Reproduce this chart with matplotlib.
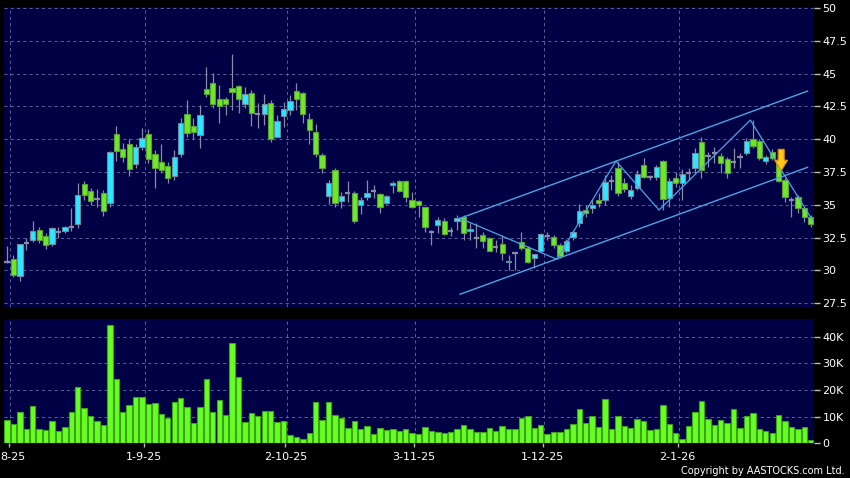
import matplotlib
matplotlib.use("Agg")
import matplotlib.pyplot as plt
import numpy as np
from matplotlib.patches import FancyArrow

# ---------------- data ----------------
opens = [30.65, 30.84, 29.55, 32.11, 32.32, 33.05, 32.65, 31.99, 32.90, 32.98,
         33.33, 33.51, 36.56, 36.03, 35.42, 35.92, 35.11, 40.37, 39.28, 39.61,
         38.08, 39.38, 40.37, 38.85, 38.29, 37.98, 37.22, 38.87, 41.90, 40.98,
         40.29, 43.80, 44.26, 43.09, 43.04, 43.88, 44.06, 42.66, 43.50, 41.90,
         41.90, 42.73, 40.19, 41.79, 42.20, 43.67, 43.50, 41.54, 40.52, 38.77,
         35.70, 37.65, 35.26, 35.92, 35.87, 34.96, 35.57, 36.08, 35.80, 35.11,
         36.51, 36.79, 36.79, 35.34, 35.26, 34.81, 32.95, 33.46, 33.77, 33.03,
         33.77, 34.05, 32.98, 32.50, 32.70, 32.44, 31.81, 31.99, 30.62, 31.30,
         32.19, 31.68, 30.97, 31.51, 32.63, 32.57, 31.91, 31.51, 32.51, 33.64,
         34.58, 34.74, 35.37, 35.37, 36.82, 37.78, 36.64, 35.68, 36.26, 38.04,
         37.10, 37.15, 38.34, 35.50, 37.02, 36.64, 37.40, 37.78, 39.81, 38.72,
         38.93, 38.72, 38.49, 38.24, 38.62, 38.98, 40.02, 39.87, 38.34, 39.05,
         38.34, 36.89, 35.37, 35.57, 34.73, 34.10]
highs = [31.86, 31.17, 32.04, 32.44, 33.76, 33.28, 32.83, 33.33, 33.33, 33.38,
         34.73, 36.64, 36.81, 36.25, 36.18, 36.13, 39.13, 41.00, 39.73, 39.99,
         39.63, 40.83, 40.75, 39.18, 39.63, 38.29, 39.18, 41.59, 42.99, 41.59,
         42.61, 45.53, 45.07, 44.13, 43.20, 46.49, 44.13, 43.95, 43.75, 42.73,
         43.42, 42.99, 41.84, 42.86, 43.37, 44.31, 43.62, 41.97, 41.16, 38.92,
         36.89, 37.78, 36.00, 36.81, 36.08, 35.62, 36.89, 36.51, 35.92, 35.75,
         36.81, 36.89, 36.89, 36.00, 35.37, 34.86, 33.10, 34.05, 33.97, 33.33,
         34.20, 34.22, 33.59, 33.59, 32.90, 32.57, 32.31, 32.70, 31.17, 31.30,
         32.90, 31.86, 31.05, 32.88, 32.95, 32.70, 32.10, 32.37, 33.06, 35.06,
         34.99, 35.37, 35.88, 37.28, 37.28, 38.29, 37.02, 36.51, 37.66, 38.55,
         37.30, 38.04, 38.42, 37.02, 37.48, 37.70, 37.78, 39.31, 40.20, 39.05,
         39.43, 38.92, 38.67, 39.31, 38.92, 40.07, 41.46, 39.99, 38.80, 39.23,
         38.47, 37.02, 35.62, 35.75, 34.86, 34.22]
lows = [30.54, 29.52, 29.22, 31.55, 32.19, 32.11, 31.63, 31.86, 32.44, 32.83,
        33.00, 33.20, 35.37, 34.98, 34.81, 34.17, 34.81, 38.36, 38.26, 37.20,
        37.78, 39.18, 38.16, 36.26, 37.40, 36.69, 36.89, 38.67, 40.19, 39.99,
        39.36, 43.24, 42.35, 41.26, 41.85, 42.23, 41.97, 42.35, 41.00, 40.83,
        41.08, 39.81, 40.14, 40.96, 41.84, 42.23, 41.26, 39.61, 38.67, 37.45,
        35.04, 34.86, 34.73, 35.24, 33.64, 34.30, 35.37, 35.49, 34.35, 35.06,
        35.87, 36.00, 35.24, 34.73, 34.10, 32.95, 31.94, 32.83, 32.70, 32.62,
        33.10, 32.32, 32.32, 31.70, 31.70, 31.45, 31.43, 30.80, 30.03, 30.03,
        31.55, 30.54, 30.16, 31.43, 32.32, 31.68, 30.92, 31.30, 32.34, 33.33,
        34.10, 34.35, 34.86, 34.99, 36.13, 35.68, 36.00, 35.42, 36.13, 37.02,
        36.89, 36.89, 34.61, 34.81, 36.39, 35.40, 36.89, 37.40, 37.02, 37.90,
        38.16, 37.40, 37.02, 37.78, 37.78, 38.80, 39.31, 38.42, 38.11, 38.42,
        36.77, 35.24, 34.10, 34.35, 33.72, 33.34]
closes = [30.65, 29.62, 31.99, 32.11, 32.98, 32.32, 31.91, 33.20, 32.90, 33.28,
          33.33, 35.77, 35.75, 35.29, 35.42, 34.50, 38.99, 39.10, 38.62, 37.70,
          39.38, 40.07, 38.47, 37.78, 37.65, 37.02, 38.62, 41.21, 40.45, 40.52,
          41.82, 43.42, 42.71, 42.53, 42.66, 43.57, 43.04, 43.47, 41.97, 41.90,
          42.66, 39.99, 41.39, 42.30, 42.91, 43.06, 41.95, 40.73, 38.90, 37.83,
          36.69, 35.11, 35.67, 35.92, 33.79, 35.37, 35.90, 36.08, 34.81, 35.67,
          36.66, 36.08, 35.62, 34.86, 34.96, 33.33, 32.95, 33.84, 32.78, 33.03,
          34.02, 32.83, 33.16, 32.50, 32.27, 31.51, 31.81, 31.35, 30.75, 31.30,
          31.68, 30.67, 31.22, 32.78, 32.63, 31.91, 31.10, 32.22, 32.92, 34.53,
          34.35, 34.99, 35.12, 36.77, 36.82, 35.88, 36.18, 36.13, 37.33, 37.15,
          37.10, 37.86, 35.42, 36.84, 36.64, 37.35, 37.40, 38.98, 37.66, 38.72,
          38.93, 38.16, 37.40, 38.24, 38.62, 39.87, 39.51, 38.54, 38.62, 38.54,
          36.82, 35.57, 35.37, 34.73, 34.10, 33.54]
volumes_k = [8.6, 7.25, 11.6, 5.5, 13.9, 5.5, 5.0, 8.25, 4.5, 6.25,
             11.6, 21.25, 13.1, 10.4, 8.25, 6.75, 44.4, 24.25, 11.9, 14.25,
             17.25, 17.4, 14.75, 15.0, 11.0, 9.4, 15.5, 17.0, 13.6, 7.75,
             13.5, 24.0, 11.75, 16.25, 10.5, 37.5, 24.9, 8.1, 11.5, 10.25,
             12.25, 12.1, 8.1, 8.5, 3.0, 2.4, 1.75, 3.75, 15.4, 8.75,
             15.5, 10.5, 9.5, 5.9, 8.5, 5.4, 6.6, 3.5, 5.6, 5.1,
             5.25, 4.6, 5.5, 4.0, 3.6, 6.1, 4.5, 4.25, 3.75, 4.25,
             5.25, 6.9, 5.4, 4.25, 4.4, 5.75, 4.5, 6.4, 5.5, 5.25,
             9.5, 10.1, 5.9, 6.9, 3.6, 4.4, 4.25, 5.4, 7.1, 12.9,
             7.6, 10.1, 6.0, 16.75, 5.4, 10.1, 6.4, 5.6, 9.0, 8.4,
             5.0, 5.25, 14.4, 7.4, 3.9, 1.6, 6.6, 11.9, 16.0, 9.1,
             6.75, 8.75, 7.75, 12.75, 5.6, 10.1, 11.5, 5.4, 4.6, 3.75,
             10.5, 8.25, 6.1, 5.5, 6.25, 1.25]

date_tick_idx = [0, 21, 43, 63, 83, 104]
date_tick_labels = ["8-25", "1-9-25", "2-10-25", "3-11-25", "1-12-25", "2-1-26"]
price_ticks = [27.5, 30, 32.5, 35, 37.5, 40, 42.5, 45, 47.5, 50]
price_tick_labels = ["27.5", "30", "32.5", "35", "37.5", "40", "42.5", "45", "47.5", "50"]
vol_ticks_k = [0, 10, 20, 30, 40]
vol_tick_labels = ["0", "10K", "20K", "30K", "40K"]

# trend lines (bar index, price)
upper_x = [70.45, 124.5]
upper_y = [33.97, 43.67]
lower_x = [70.45, 124.5]
lower_y = [28.18, 37.86]
zig_x = [70.45, 85.5, 94.7, 101.4, 115.6, 125.4]
zig_y = [33.97, 30.85, 38.34, 34.60, 41.46, 33.71]
arrow_x = 120.4
arrow_top = 39.23
arrow_tip = 37.60

# ---------------- style ----------------
BG = "#000000"
PANEL = "#000044"
GRID = "#5a5a96"
GREEN = "#6ee82a"
GREEN_EDGE = "#5a9e34"
CYAN = "#2ee6ff"
CYAN_EDGE = "#6a8ca0"
WICK = "#8a8aa6"
VOL = "#66ff22"
VOL_EDGE = "#3fa01e"
LINE = "#4aa6e6"
TXT = "#ffffff"

plt.rcParams['font.family'] = ['DejaVu Sans']

W, H = 850, 478
fig = plt.figure(figsize=(W / 100, H / 100), dpi=100, facecolor=BG)

def frac(x0, y0, x1, y1):
    return [x0 / W, 1 - y1 / H, (x1 - x0) / W, (y1 - y0) / H]

axp = fig.add_axes(frac(4, 7, 814, 307))
axv = fig.add_axes(frac(4, 319, 814, 443.3))

n = len(opens)
idx = np.arange(n)
o = np.array(opens); h = np.array(highs); l = np.array(lows); c = np.array(closes)

for ax in (axp, axv):
    ax.set_facecolor(PANEL)
    for s in ax.spines.values():
        s.set_visible(False)
    ax.set_xlim(-0.47, 125.5)
    for t in date_tick_idx:
        ax.axvline(t + 0.5, color=GRID, lw=0.75, dashes=(3, 3), zorder=0)

axp.set_ylim(27.21, 50.08)
for p in price_ticks:
    axp.axhline(p, color=GRID, lw=0.75, dashes=(3, 3), zorder=0)

# wicks
axp.vlines(idx, l, h, color=WICK, lw=0.9, zorder=2)
# bodies
up = c > o
down = c < o
doji = c == o
bw = 0.82
axp.bar(idx[up], (c - o)[up], bottom=o[up], width=bw, color=CYAN,
        edgecolor=CYAN_EDGE, linewidth=0.8, zorder=3)
axp.bar(idx[down], (o - c)[down], bottom=c[down], width=bw, color=GREEN,
        edgecolor=GREEN_EDGE, linewidth=0.8, zorder=3)
axp.hlines(c[doji], idx[doji] - bw / 2, idx[doji] + bw / 2, color=WICK, lw=1.6, zorder=3)

# trend lines
axp.plot(upper_x, upper_y, color=LINE, lw=1.0, zorder=4)
axp.plot(lower_x, lower_y, color=LINE, lw=1.0, zorder=4)
axp.plot(zig_x, zig_y, color=LINE, lw=0.9, zorder=4)

# arrow
arr = FancyArrow(arrow_x, arrow_top, 0, -(arrow_top - arrow_tip), width=0.93,
                 head_width=2.0, head_length=0.8, length_includes_head=True,
                 facecolor="#ffc81e", edgecolor="#e08a00", linewidth=0.8, zorder=5)
axp.add_patch(arr)

axp.yaxis.tick_right()
axp.set_yticks(price_ticks)
axp.set_yticklabels(price_tick_labels)
axp.set_xticks([])
axp.tick_params(axis='y', colors="#bbbbbb", labelcolor=TXT, labelsize=8,
                length=4, width=1, pad=2)

# volume
axv.set_ylim(0, 46.6)
for v in vol_ticks_k[1:]:
    axv.axhline(v, color=GRID, lw=0.75, dashes=(3, 3), zorder=0)
axv.bar(idx, volumes_k, width=0.84, color=VOL, edgecolor=VOL_EDGE, linewidth=0.8, zorder=3)
axv.yaxis.tick_right()
axv.set_yticks(vol_ticks_k)
axv.set_yticklabels(vol_tick_labels)
axv.tick_params(axis='y', colors="#bbbbbb", labelcolor=TXT, labelsize=8,
                length=4, width=1, pad=2)
axv.set_xticks([t + 0.3 for t in date_tick_idx])
axv.set_xticklabels(date_tick_labels)
axv.tick_params(axis='x', colors="#bbbbbb", labelcolor=TXT, labelsize=8,
                length=3, width=1, pad=3)
# first date label sits at the very left edge, as in the reference
first_lbl = axv.get_xticklabels()[0]
first_lbl.set_horizontalalignment('left')
first_lbl.set_x(first_lbl.get_position()[0])
from matplotlib.transforms import ScaledTranslation
first_lbl.set_transform(first_lbl.get_transform() + ScaledTranslation(-8.5 / 100, 0, fig.dpi_scale_trans))

fig.text(845 / W, 1 - 471.5 / H, "Copyright by AASTOCKS.com Ltd.", color=TXT,
         fontsize=7, ha='right', va='center')

fig.savefig("out.png", dpi=100, facecolor=BG)
